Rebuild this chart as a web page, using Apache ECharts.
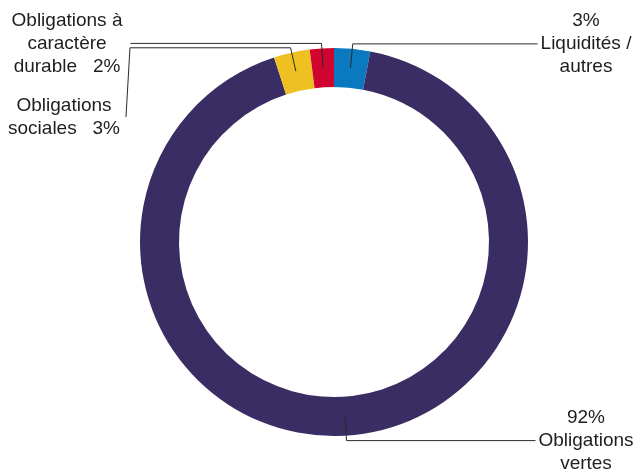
<!DOCTYPE html>
<html>
<head>
<meta charset="utf-8">
<script src="https://cdn.jsdelivr.net/npm/echarts@6/dist/echarts.min.js"></script>
<style>
  html, body { margin: 0; padding: 0; background: #fff; }
  #chart { width: 639px; height: 470px; }
</style>
</head>
<body>
<div id="chart"></div>
<script>
// ---- data ----
var categories = ['Liquidités /\nautres', 'Obligations\nvertes', 'Obligations\nsociales', 'Obligations à\ncaractère\ndurable'];
var values = [3, 92, 3, 2];
var colors = ['#0a79c0', '#3a2d63', '#eec022', '#d0052f'];
var valueFirst = [true, true, false, false];

// ---- layout (styling only) ----
var CENTER = [334, 242];
var R_IN = 155, R_OUT = 194;
var LINE_START_DEPTH = 19;          // leader lines start inside the ring
var labelStyle = [
  { x: 586, side: 'right', gap: 3 },
  { x: 586, side: 'right', gap: 3 },
  { x: 64,  side: 'left',  gap: 10, y: 117, bend: 4 },
  { x: 67,  side: 'left',  gap: 8 }
];

var chart = echarts.init(document.getElementById('chart'), null, { renderer: 'canvas' });

var ringData = categories.map(function (c, i) {
  return { name: c, value: values[i], itemStyle: { color: colors[i] } };
});
var labelData = categories.map(function (c, i) {
  return { name: c, value: values[i] };
});

var common = {
  type: 'pie',
  center: CENTER,
  radius: [R_IN, R_OUT],
  startAngle: 90,
  clockwise: true,
  avoidLabelOverlap: false,
  silent: true
};

chart.setOption({
  animation: false,
  backgroundColor: '#ffffff',
  series: [
    Object.assign({}, common, {
      z: 2,
      data: ringData,
      itemStyle: { borderWidth: 0 },
      label: { show: false },
      labelLine: { show: false }
    }),
    Object.assign({}, common, {
      z: 3,
      data: labelData,
      itemStyle: { color: 'rgba(0,0,0,0)', borderWidth: 0 },
      label: {
        show: true,
        position: 'outside',
        fontFamily: '"Liberation Sans", Arial, sans-serif',
        fontSize: 19,
        lineHeight: 23,
        color: '#1e1e1e',
        align: 'center',
        formatter: function (p) {
          var i = p.dataIndex;
          return valueFirst[i] ? (p.value + '%\n' + p.name) : (p.name + '   ' + p.value + '%');
        }
      },
      labelLine: {
        show: true,
        showAbove: true,
        length: 5,
        length2: 20,
        smooth: false,
        lineStyle: { color: '#2a2a2a', width: 1 }
      },
      labelLayout: function (params) {
        var i = params.dataIndex;
        var s = labelStyle[i];
        var pts = params.labelLinePoints;
        var p0 = pts[0], p1 = pts[1];
        var dx = p1[0] - p0[0], dy = p1[1] - p0[1];
        var len = Math.sqrt(dx * dx + dy * dy) || 1;
        dx /= len; dy /= len;
        var start = [p0[0] - dx * LINE_START_DEPTH, p0[1] - dy * LINE_START_DEPTH];
        var w = params.labelRect.width;
        var endX = s.side === 'right' ? (s.x - w / 2 - s.gap) : (s.x + w / 2 + s.gap);
        var line = [start, p1, [endX, p1[1]]];
        var ly = p1[1];
        if (s.y != null) {
          line.push([endX - s.bend, s.y]);
          ly = s.y;
        }
        return {
          x: s.x,
          y: ly,
          align: 'center',
          verticalAlign: 'middle',
          labelLinePoints: line
        };
      }
    })
  ]
});
</script>
</body>
</html>
